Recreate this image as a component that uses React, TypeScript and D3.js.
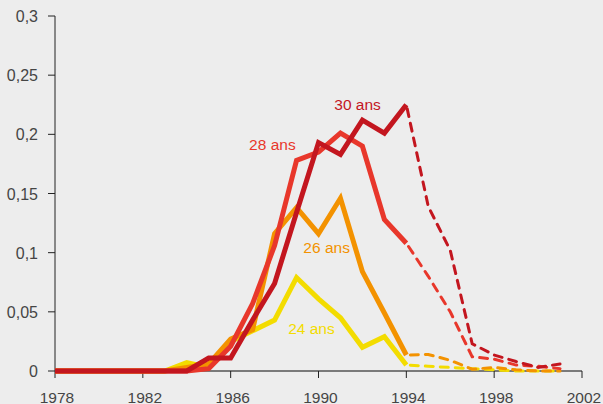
import * as d3 from 'd3';
import { useEffect, useRef } from 'react';

const years = d3.range(1978, 2002);
const lastObserved = 1994;

// one value per year, 1978 -> 2001
const ans24 = [0, 0, 0, 0, 0, 0, 0.007, 0.003, 0.025, 0.034, 0.043, 0.079, 0.061, 0.045, 0.02, 0.029, 0.005,
  0.004, 0.003, 0.002, 0.001, 0, 0, 0];
const ans26 = [0, 0, 0, 0, 0, 0, 0.003, 0.006, 0.027, 0.035, 0.116, 0.138, 0.116, 0.146, 0.084, 0.049, 0.0135,
  0.014, 0.009, 0.0015, 0.003, 0.001, 0, 0];
const ans28 = [0, 0, 0, 0, 0, 0, 0, 0.002, 0.021, 0.057, 0.106, 0.178, 0.185, 0.201, 0.19, 0.128, 0.108,
  0.08, 0.05, 0.012, 0.01, 0.005, 0.004, 0.002];
const ans30 = [0, 0, 0, 0, 0, 0, 0, 0.011, 0.011, 0.043, 0.074, 0.134, 0.193, 0.183, 0.212, 0.201, 0.225,
  0.139, 0.102, 0.023, 0.0135, 0.008, 0.003, 0.006];

const seriesNames = ['24 ans', '26 ans', '28 ans', '30 ans'];
const seriesValues = [ans24, ans26, ans28, ans30];
const seriesColors = ['#f3dc00', '#f39200', '#e8372b', '#c3161f'];
// label anchor (year, value) = left edge / baseline of each series label
const labelYears = [1988.62, 1989.31, 1986.84, 1990.72];
const labelValues = [0.0313, 0.0995, 0.1868, 0.2206];

const yTicks = [0, 0.05, 0.1, 0.15, 0.2, 0.25, 0.3];
const xTicks = [1978, 1982, 1986, 1990, 1994, 1998, 2002];

export default function App() {
  const svgRef = useRef<SVGSVGElement>(null);

  useEffect(() => {
    if (!svgRef.current) return;
    const width = 603;
    const height = 404;
    const svg = d3.select(svgRef.current);
    svg.selectAll('*').remove();

    const x = d3.scaleLinear().domain([1978, 2002]).range([55, 582]);
    const y = d3.scaleLinear().domain([0, 0.3]).range([371, 16]);
    const font = '"Liberation Sans", Arial, sans-serif';

    svg.append('rect').attr('width', width).attr('height', height).attr('fill', '#ededed');

    // x axis: grey baseline, dark ticks below
    svg.append('line')
      .attr('x1', x(1978)).attr('x2', x(2002))
      .attr('y1', y(0)).attr('y2', y(0))
      .attr('stroke', '#7a7a7a').attr('stroke-width', 2);
    const xg = svg.append('g');
    xg.selectAll('line').data(xTicks).enter().append('line')
      .attr('x1', (d) => x(d)).attr('x2', (d) => x(d))
      .attr('y1', y(0)).attr('y2', y(0) + 7)
      .attr('stroke', '#222').attr('stroke-width', 1);
    xg.selectAll('text').data(xTicks).enter().append('text')
      .attr('x', (d) => x(d) + 2).attr('y', 402.5)
      .attr('text-anchor', 'middle')
      .attr('font-family', font).attr('font-size', 15.5).attr('fill', '#454545')
      .text((d) => d);

    // y axis
    svg.append('line')
      .attr('x1', 55).attr('x2', 55).attr('y1', y(0.3)).attr('y2', y(0))
      .attr('stroke', '#222').attr('stroke-width', 1);
    const yg = svg.append('g');
    yg.selectAll('line').data(yTicks).enter().append('line')
      .attr('x1', 48).attr('x2', 55)
      .attr('y1', (d) => y(d)).attr('y2', (d) => y(d))
      .attr('stroke', '#222').attr('stroke-width', 1);
    yg.selectAll('text').data(yTicks).enter().append('text')
      .attr('x', 38).attr('y', (d) => y(d) + 6)
      .attr('text-anchor', 'end')
      .attr('font-family', font).attr('font-size', 16).attr('fill', '#454545')
      .text((d) => String(d).replace('.', ','));

    const line = d3.line<[number, number]>()
      .x((d) => x(d[0]))
      .y((d) => y(d[1]));

    seriesValues.forEach((vals, i) => {
      const pts = years.map((yr, j) => [yr, vals[j]] as [number, number]);
      const solid = pts.filter((p) => p[0] <= lastObserved);
      const dashed = pts.filter((p) => p[0] >= lastObserved);

      svg.append('path')
        .attr('d', line(dashed))
        .attr('fill', 'none')
        .attr('stroke', seriesColors[i])
        .attr('stroke-width', 3)
        .attr('stroke-dasharray', '8,7')
        .attr('stroke-dashoffset', -4)
        .attr('stroke-linecap', 'round');

      svg.append('path')
        .attr('d', line(solid))
        .attr('fill', 'none')
        .attr('stroke', seriesColors[i])
        .attr('stroke-width', 5)
        .attr('stroke-linejoin', 'miter');

      svg.append('text')
        .attr('x', x(labelYears[i])).attr('y', y(labelValues[i]))
        .attr('font-family', font).attr('font-size', 15.5)
        .attr('fill', seriesColors[i])
        .text(seriesNames[i]);
    });
  }, []);

  return (
    <svg
      ref={svgRef}
      width={603}
      height={404}
      style={{ position: 'absolute', left: 0, top: 0 }}
    />
  );
}
